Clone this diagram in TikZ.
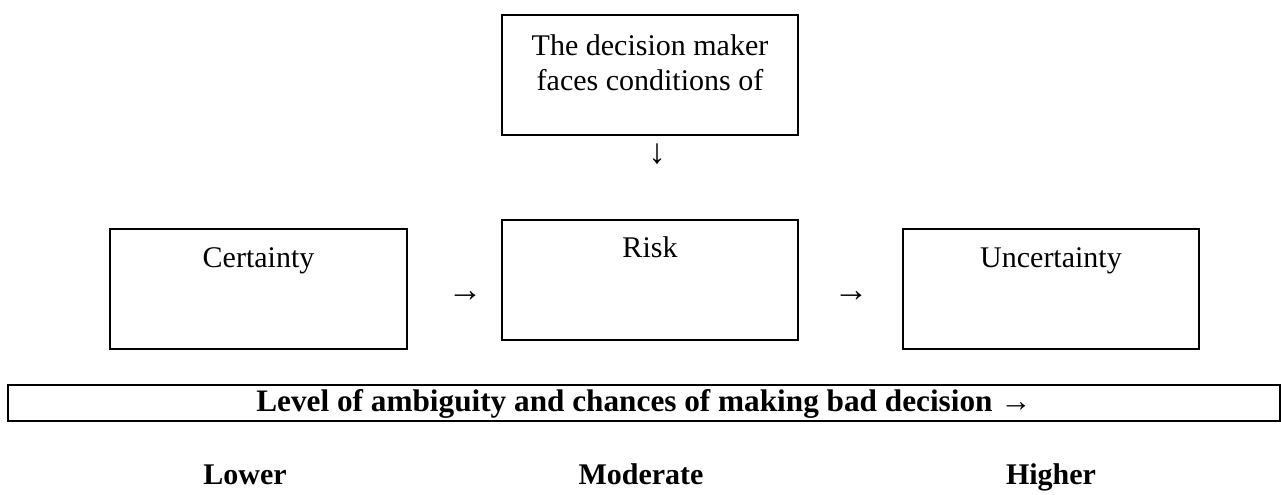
\documentclass[tikz,border=0pt]{standalone}
\usepackage{fontspec}
\setmainfont{Liberation Serif}
\usetikzlibrary{positioning}

\tikzset{
    condBox/.style={
        rectangle,
        draw,
        line width=0.8pt,
        inner sep=0pt,
        minimum width=118.4pt,
        minimum height=48pt,
        align=center,
        font=\fontsize{12}{14}\selectfont,
        text height=15.4pt,
        text depth=32.6pt
    },
    scaleBox/.style={
        rectangle,
        draw,
        line width=1pt,
        inner sep=0pt,
        minimum width=508.8pt,
        minimum height=14.4pt,
        font=\fontsize{12.5}{14}\selectfont\bfseries,
        text height=10.6pt,
        text depth=3.8pt
    },
    % glyph arrows and level words
    glyphArrow/.style={font=\fontsize{14}{16}\selectfont, inner sep=0pt},
    levelText/.style={font=\fontsize{12}{14}\selectfont\bfseries, inner sep=0pt, anchor=base}
}

\begin{document}
\begin{tikzpicture}[x=0.4pt, y=-0.4pt]
    \useasboundingbox (0,0) rectangle (1281,494);

    \node[condBox, text height=30.2pt, text depth=17.8pt] (maker) at (650,75) {The decision maker\\faces conditions of};
    \node[glyphArrow] (down) at (657,154) {↓};

    \node[condBox] (certainty) at (258.5,289) {Certainty};
    \node[condBox, text height=15.2pt, text depth=32.8pt] (risk) at (650,279.5) {Risk};
    \node[condBox] (uncertainty) at (1051,289) {Uncertainty};

    \node[glyphArrow] (toRisk) at (465,297) {→};
    \node[glyphArrow] (toUncertainty) at (851,297) {→};

    \node[scaleBox] (ambiguity) at (644,403) {Level of ambiguity and chances of making bad decision →};

    \node[levelText] (lower) at (245,484) {Lower};
    \node[levelText] (moderate) at (641,484) {Moderate};
    \node[levelText] (higher) at (1051,484) {Higher};
\end{tikzpicture}
\end{document}
